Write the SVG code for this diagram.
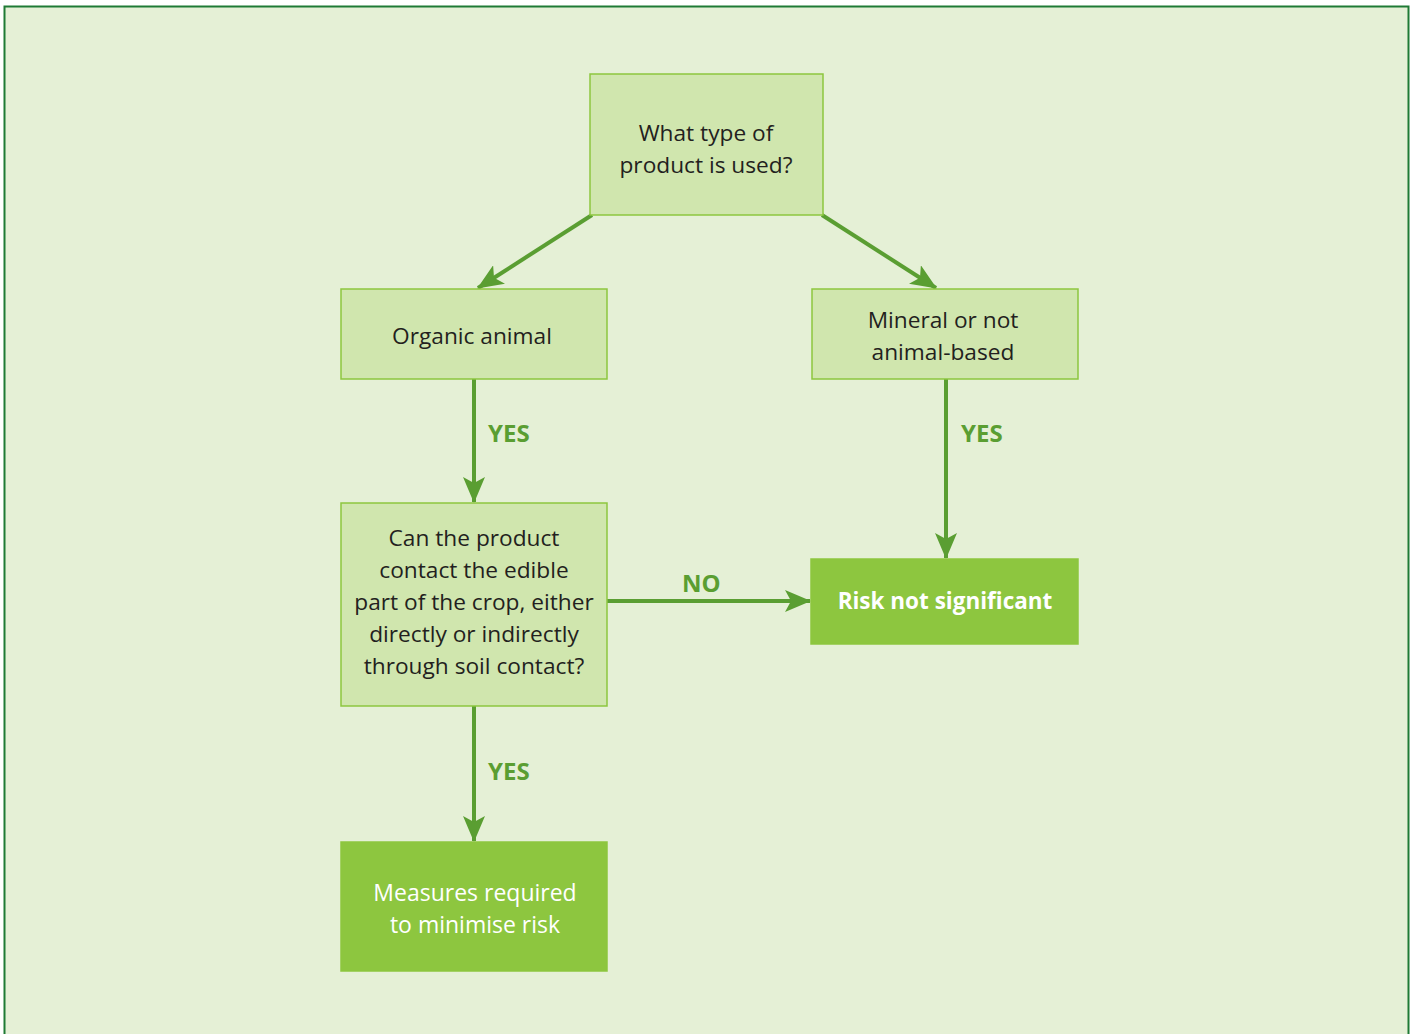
<svg xmlns="http://www.w3.org/2000/svg" width="1414" height="1034" viewBox="0 0 1414 1034">
<defs>
<style>
.bg{fill:#e5f0d6;stroke:#1f7a35;stroke-width:2}
.lt{fill:#d0e6ae;stroke:#8dc63f;stroke-width:1.5}
.dk{fill:#8dc63f;stroke:#8dc63f;stroke-width:1.5}
.t{font-family:"Open Sans","Noto Sans",sans-serif;font-size:22.7px;fill:#231f20;text-anchor:middle}
.tw{font-family:"Open Sans","Noto Sans",sans-serif;font-size:23px;fill:#ffffff;text-anchor:middle}
.tb{font-family:"Open Sans","Noto Sans",sans-serif;font-size:22.5px;font-weight:700;fill:#ffffff;text-anchor:middle}
.lb{font-family:"Open Sans","Noto Sans",sans-serif;font-size:24px;font-weight:700;fill:#5a9e32}
.c{stroke:#5a9e32;stroke-width:4;fill:none}
</style>
<marker id="ah" viewBox="0 0 26 22" refX="25" refY="11" markerWidth="26" markerHeight="22" markerUnits="userSpaceOnUse" orient="auto">
<path d="M0,0 L26,11 L0,22 L6,11 Z" fill="#5a9e32"/>
</marker>
</defs>
<rect class="bg" x="4.5" y="6.5" width="1404" height="1040"/>
<g id="connectors">
<line class="c" x1="592" y1="215" x2="478" y2="288" marker-end="url(#ah)"/>
<line class="c" x1="822" y1="215" x2="936" y2="288" marker-end="url(#ah)"/>
<line class="c" x1="474" y1="379" x2="474" y2="502" marker-end="url(#ah)"/>
<line class="c" x1="946" y1="379" x2="946" y2="558" marker-end="url(#ah)"/>
<line class="c" x1="474" y1="706" x2="474" y2="841" marker-end="url(#ah)"/>
<line class="c" x1="607" y1="601" x2="810" y2="601" marker-end="url(#ah)"/>
<text class="lb" x="488" y="442">YES</text>
<text class="lb" x="961" y="442">YES</text>
<text class="lb" x="488" y="780">YES</text>
<text class="lb" x="682" y="592">NO</text>
</g>
<g id="n-type">
<rect class="lt" x="590" y="74" width="233" height="141"/>
<text class="t" x="706" y="141">What type of</text>
<text class="t" x="706" y="173">product is used?</text>
</g>
<g id="n-organic">
<rect class="lt" x="341" y="289" width="266" height="90"/>
<text class="t" x="472" y="344">Organic animal</text>
</g>
<g id="n-mineral">
<rect class="lt" x="812" y="289" width="266" height="90"/>
<text class="t" x="943" y="328">Mineral or not</text>
<text class="t" x="943" y="360">animal-based</text>
</g>
<g id="n-question">
<rect class="lt" x="341" y="503" width="266" height="203"/>
<text class="t" x="474" y="546">Can the product</text>
<text class="t" x="474" y="578">contact the edible</text>
<text class="t" x="474" y="610">part of the crop, either</text>
<text class="t" x="474" y="642">directly or indirectly</text>
<text class="t" x="474" y="674">through soil contact?</text>
</g>
<g id="n-risk">
<rect class="dk" x="811" y="559" width="267" height="85"/>
<text class="tb" x="945" y="609">Risk not significant</text>
</g>
<g id="n-measures">
<rect class="dk" x="341" y="842" width="266" height="129"/>
<text class="tw" x="475" y="901">Measures required</text>
<text class="tw" x="475" y="933">to minimise risk</text>
</g>
</svg>
